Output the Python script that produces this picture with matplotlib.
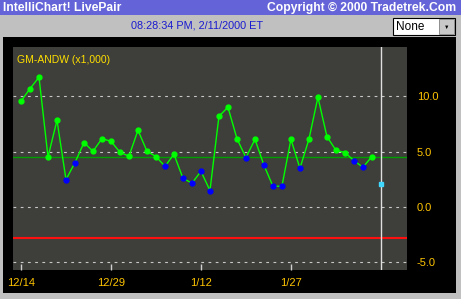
import matplotlib.pyplot as plt
import numpy as np
from matplotlib.patches import Rectangle

# spread values (x1,000), one per trading day starting 12/14
spread = [9.55, 10.69, 11.72, 4.52, 7.83, 2.47, 4.01, 5.81, 5.03, 6.17,
          5.93, 4.94, 4.58, 6.93, 5.03, 4.55, 3.67, 4.76, 2.59, 2.14,
          3.22, 1.48, 8.19, 9.01, 6.17, 4.45, 6.11, 3.77, 1.87, 1.87,
          6.11, 3.49, 6.11, 9.91, 6.36, 5.12, 4.91, 4.19, 3.58, 4.55]
last_value = 2.11          # current point after the cursor line
mean_level = 4.5           # green reference line
lower_band = -2.8          # red line
date_labels = ['12/14', '12/29', '1/12', '1/27']
date_ticks = [0, 10, 20, 30]
y_ticks = [-5.0, 0.0, 5.0, 10.0]

W, H = 461, 299
fig = plt.figure(figsize=(W / 100, H / 100), dpi=100)
fig.patch.set_facecolor('#c0c0c0')
plt.rcParams['font.family'] = ['Liberation Sans', 'DejaVu Sans']


def box(x0, y0, x1, y1, **kw):
    # rectangle in pixel coords measured from the top-left
    fig.add_artist(Rectangle((x0 / W, 1 - y1 / H), (x1 - x0) / W, (y1 - y0) / H,
                             transform=fig.transFigure, zorder=-1, **kw))


def px_text(x, y, s, **kw):
    fig.text(x / W, 1 - y / H, s, **kw)


# header bars
box(0, 0, W, 15, facecolor='#6464d8', edgecolor='none')
px_text(3, 8, 'IntelliChart! LivePair', color='white', fontsize=8.7,
        fontweight='bold', va='center', ha='left')
px_text(456, 8, 'Copyright \u00a9 2000 Tradetrek.Com', color='white', fontsize=8.7,
        fontweight='bold', va='center', ha='right')
px_text(197, 26, '08:28:34 PM, 2/11/2000 ET', color='#1a1ad0', fontsize=7.8,
        va='center', ha='center')

# dropdown
box(393, 18, 455, 35, facecolor='white', edgecolor='black', linewidth=0.8)
box(439, 19, 454, 34, facecolor='#c8c8c8', edgecolor='#808080', linewidth=0.6)
px_text(396, 26.5, 'None', color='black', fontsize=8.5, va='center', ha='left')
px_text(446.5, 27, '\u25BC', color='black', fontsize=4, va='center', ha='center')

# black chart panel
box(3, 37, 456, 293, facecolor='black', edgecolor='none')

ax = fig.add_axes([13 / W, 1 - 270 / H, 394 / W, 223 / H])
ax.set_zorder(5)
ax.set_facecolor('#3e3e3a')
for s in ax.spines.values():
    s.set_visible(False)

x = np.arange(len(spread))
vals = np.array(spread)

for yv in y_ticks:
    ax.axhline(yv, color='#c8c8c8', linewidth=0.8, linestyle=(0, (2.5, 4)), zorder=1)
ax.axhline(mean_level, color='#00a000', linewidth=1.0, zorder=2)
ax.axhline(lower_band, color='#ff1010', linewidth=1.5, zorder=2)
ax.axvline(len(spread), color='#e0e0e0', linewidth=1.0, zorder=2)

ax.plot(x, vals, color='#00ff00', linewidth=1.0, zorder=3)
up = vals >= mean_level
ax.plot(x[up], vals[up], 'o', color='#00ff00', markersize=3.5, zorder=4)
ax.plot(x[~up], vals[~up], 'o', color='#0000ff', markersize=3.5, zorder=4)
ax.plot([len(spread)], [last_value], 's', color='#40d8ff', markersize=2.5, zorder=4)

ax.set_xlim(-0.89, 42.9)
ax.set_ylim(-5.7, 14.45)
ax.set_xticks(date_ticks)
ax.set_xticklabels(date_labels)
ax.set_yticks(y_ticks)
ax.set_yticklabels(['%.1f' % v for v in y_ticks])
ax.yaxis.tick_right()
ax.tick_params(axis='x', direction='in', length=4, width=1, color='#d0d0d0',
               labelcolor='#ffc400', labelsize=8, pad=6)
ax.tick_params(axis='y', length=0, labelcolor='#ffc400', labelsize=8, pad=7)
for lab in ax.get_yticklabels():
    lab.set_horizontalalignment('left')

ax.text(0.011, 0.965, 'GM-ANDW (x1,000)', transform=ax.transAxes, color='#ffe000',
        fontsize=7.5, va='top', ha='left')

fig.savefig('out.png', dpi=100, facecolor=fig.get_facecolor())
